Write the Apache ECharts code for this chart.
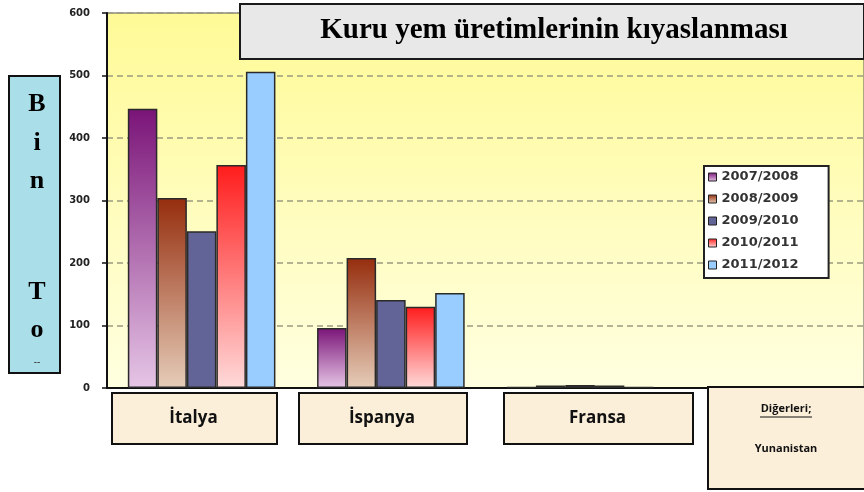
<!DOCTYPE html>
<html>
<head>
<meta charset="utf-8">
<script src="https://cdn.jsdelivr.net/npm/echarts@6/dist/echarts.min.js"></script>
<style>
  html, body { margin: 0; padding: 0; background: #fff; }
  #chart { width: 864px; height: 492px; }
</style>
</head>
<body>
<div id="chart"></div>
<script>
// categories (countries) and seasons
const categories = ['İtalya', 'İspanya', 'Fransa', 'Diğerleri']
const seasons = ['2007/2008', '2008/2009', '2009/2010', '2010/2011', '2011/2012']

// thousand tons
const s2007 = [447, 96, 2, null]
const s2008 = [304, 208, 4, null]
const s2009 = [251, 141, 5, null]
const s2010 = [357, 130, 4, null]
const s2011 = [506, 152, 2, null]

const yTicks = [0, 100, 200, 300, 400, 500, 600]
const titleText = 'Kuru yem üretimlerinin kıyaslanması'
const yNameLetters = ['B', 'i', 'n', 'T', 'o']
const otherCountries = ['Yunanistan']

const chart = echarts.init(document.getElementById('chart'))

function grad(top, bottom) {
  return new echarts.graphic.LinearGradient(0, 0, 0, 1, [
    { offset: 0, color: top },
    { offset: 1, color: bottom }
  ])
}

const seriesColors = [
  grad('#7a1478', '#e6c6e6'),
  grad('#952d0d', '#e6cdb9'),
  '#626396',
  grad('#ff1c1c', '#ffdada'),
  '#99ccff'
]
const seriesData = [s2007, s2008, s2009, s2010, s2011]

// label boxes under the axis
const boxFill = '#fcefda'
const catBoxes = [
  { x: 111, w: 165 },
  { x: 298, w: 168 },
  { x: 503, w: 189 }
]
const graphics = []

graphics.push({
  type: 'rect', left: 239, top: 3, z: 10,
  shape: { width: 624, height: 55 },
  style: { fill: '#e8e8e8', stroke: '#1a1a1a', lineWidth: 2 }
})
graphics.push({
  type: 'text', x: 554, y: 31, z: 11,
  style: {
    text: titleText, fill: '#000', align: 'center', verticalAlign: 'middle',
    font: 'bold 29px "Liberation Serif"'
  }
})

graphics.push({
  type: 'rect', left: 8, top: 75, z: 10,
  shape: { width: 51, height: 297 },
  style: { fill: '#aadfea', stroke: '#111', lineWidth: 2 }
})
const letterY = [104, 143, 181, 292, 330]
yNameLetters.forEach((ch, i) => {
  graphics.push({
    type: 'text', x: 37, y: letterY[i], z: 11,
    style: {
      text: ch, fill: '#000', align: 'center', verticalAlign: 'middle',
      font: 'bold 26px "Liberation Serif"'
    }
  })
})
graphics.push({
  type: 'text', x: 37, y: 362, z: 11,
  style: { text: '--', fill: '#333', align: 'center', verticalAlign: 'middle', font: '10px "Liberation Sans"' }
})

catBoxes.forEach((b, i) => {
  graphics.push({
    type: 'rect', left: b.x, top: 392, z: 10,
    shape: { width: b.w, height: 51 },
    style: { fill: boxFill, stroke: '#111', lineWidth: 2 }
  })
  graphics.push({
    type: 'text', x: b.x + b.w / 2, y: 418, z: 11,
    style: {
      text: categories[i], fill: '#111', align: 'center', verticalAlign: 'middle',
      font: 'bold 17px "Open Sans"'
    }
  })
})

graphics.push({
  type: 'rect', left: 707, top: 386, z: 10,
  shape: { width: 160, height: 102 },
  style: { fill: boxFill, stroke: '#111', lineWidth: 2 }
})
graphics.push({
  type: 'text', x: 786, y: 409, z: 11,
  style: {
    text: categories[3] + ';', fill: '#111', align: 'center', verticalAlign: 'middle',
    font: 'bold 11px "Open Sans"'
  }
})
graphics.push({
  type: 'line', z: 11,
  shape: { x1: 760, y1: 417, x2: 812, y2: 417 },
  style: { stroke: '#111', lineWidth: 1 }
})
graphics.push({
  type: 'text', x: 786, y: 449, z: 11,
  style: {
    text: otherCountries.join('\n'), fill: '#111', align: 'center', verticalAlign: 'middle',
    font: 'bold 11px "Open Sans"'
  }
})

const option = {
  animation: false,
  grid: {
    left: 107, right: -3, top: 13, bottom: 104,
    show: true,
    backgroundColor: grad('#fffa96', '#ffffe0'),
    borderColor: '#555',
    borderWidth: 1
  },
  legend: {
    orient: 'vertical',
    left: 704, top: 166,
    data: seasons,
    backgroundColor: '#fff',
    borderColor: '#222',
    borderWidth: 2,
    padding: [4, 30, 6, 4],
    itemWidth: 8, itemHeight: 8,
    itemGap: 8,
    icon: 'rect',
    itemStyle: { borderColor: '#222', borderWidth: 1 },
    textStyle: { fontFamily: 'DejaVu Sans', fontSize: 13, fontWeight: 'bold', color: '#333', lineHeight: 14 }
  },
  xAxis: {
    type: 'category',
    data: categories,
    axisLine: { lineStyle: { color: '#111', width: 2 } },
    axisTick: { show: false },
    axisLabel: { show: false }
  },
  yAxis: {
    type: 'value',
    min: yTicks[0], max: yTicks[yTicks.length - 1], interval: 100,
    axisLine: { show: true, lineStyle: { color: '#111', width: 2 } },
    axisTick: { show: true, length: 5, lineStyle: { color: '#111', width: 1.5 } },
    axisLabel: {
      margin: 17, color: '#222', fontSize: 10, fontWeight: 'bold',
      fontFamily: 'DejaVu Sans'
    },
    splitLine: { lineStyle: { color: '#9a9a80', type: [6, 4], width: 1.5 } }
  },
  series: seasons.map((name, i) => ({
    name,
    type: 'bar',
    data: seriesData[i],
    barGap: 0,
    barCategoryGap: '22%',
    itemStyle: { color: seriesColors[i], borderColor: '#2a2a2a', borderWidth: 1.5 }
  })),
  graphic: graphics
}

chart.setOption(option)
</script>
</body>
</html>
